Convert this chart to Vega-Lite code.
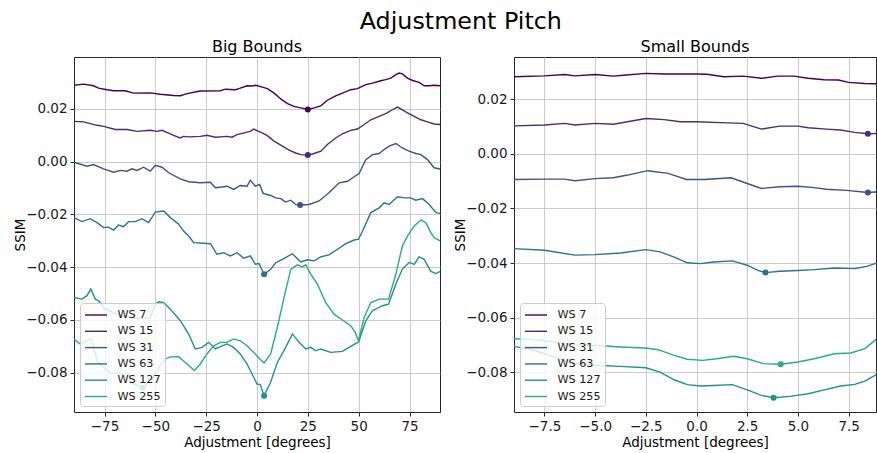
{
  "$schema": "https://vega.github.io/schema/vega-lite/v6.json",
  "padding": {"left": 13, "top": 9, "right": 0, "bottom": 4},
  "title": {"text": "Adjustment Pitch", "fontSize": 23.8, "anchor": "middle", "frame": "bounds", "offset": 5, "dx": 16},
  "datasets": {
    "big": [
      {"series": "WS 7", "deg": -90, "ssim": 0.0290}, {"series": "WS 7", "deg": -85.3, "ssim": 0.0294}, {"series": "WS 7", "deg": -80.4, "ssim": 0.0288}, {"series": "WS 7", "deg": -77.9, "ssim": 0.0279}, {"series": "WS 7", "deg": -73.8, "ssim": 0.0273}, {"series": "WS 7", "deg": -70.5, "ssim": 0.0269}, {"series": "WS 7", "deg": -64.8, "ssim": 0.0269}, {"series": "WS 7", "deg": -60.7, "ssim": 0.0260}, {"series": "WS 7", "deg": -52.5, "ssim": 0.0261}, {"series": "WS 7", "deg": -47.5, "ssim": 0.0256}, {"series": "WS 7", "deg": -41.0, "ssim": 0.0251}, {"series": "WS 7", "deg": -37.7, "ssim": 0.0250}, {"series": "WS 7", "deg": -34.4, "ssim": 0.0258}, {"series": "WS 7", "deg": -27.9, "ssim": 0.0268}, {"series": "WS 7", "deg": -18.0, "ssim": 0.0269}, {"series": "WS 7", "deg": -15.6, "ssim": 0.0275}, {"series": "WS 7", "deg": -10.6, "ssim": 0.0273}, {"series": "WS 7", "deg": -8.2, "ssim": 0.0279}, {"series": "WS 7", "deg": -4.9, "ssim": 0.0288}, {"series": "WS 7", "deg": -2.5, "ssim": 0.0287}, {"series": "WS 7", "deg": -0.6, "ssim": 0.0290}, {"series": "WS 7", "deg": 2.6, "ssim": 0.0283}, {"series": "WS 7", "deg": 5.1, "ssim": 0.0277}, {"series": "WS 7", "deg": 8.4, "ssim": 0.0260}, {"series": "WS 7", "deg": 11.7, "ssim": 0.0238}, {"series": "WS 7", "deg": 15.0, "ssim": 0.0220}, {"series": "WS 7", "deg": 18.2, "ssim": 0.0210}, {"series": "WS 7", "deg": 21.5, "ssim": 0.0204}, {"series": "WS 7", "deg": 25.0, "ssim": 0.0198}, {"series": "WS 7", "deg": 28.1, "ssim": 0.0204}, {"series": "WS 7", "deg": 31.4, "ssim": 0.0212}, {"series": "WS 7", "deg": 34.6, "ssim": 0.0233}, {"series": "WS 7", "deg": 38.7, "ssim": 0.0250}, {"series": "WS 7", "deg": 42.0, "ssim": 0.0260}, {"series": "WS 7", "deg": 46.1, "ssim": 0.0273}, {"series": "WS 7", "deg": 49.4, "ssim": 0.0277}, {"series": "WS 7", "deg": 53.5, "ssim": 0.0292}, {"series": "WS 7", "deg": 56.8, "ssim": 0.0298}, {"series": "WS 7", "deg": 60.9, "ssim": 0.0307}, {"series": "WS 7", "deg": 63.3, "ssim": 0.0311}, {"series": "WS 7", "deg": 65.8, "ssim": 0.0317}, {"series": "WS 7", "deg": 68.3, "ssim": 0.0330}, {"series": "WS 7", "deg": 69.9, "ssim": 0.0336}, {"series": "WS 7", "deg": 71.5, "ssim": 0.0333}, {"series": "WS 7", "deg": 74.0, "ssim": 0.0317}, {"series": "WS 7", "deg": 76.5, "ssim": 0.0308}, {"series": "WS 7", "deg": 79.7, "ssim": 0.0301}, {"series": "WS 7", "deg": 82.2, "ssim": 0.0288}, {"series": "WS 7", "deg": 84.7, "ssim": 0.0288}, {"series": "WS 7", "deg": 87.1, "ssim": 0.0290}, {"series": "WS 7", "deg": 90, "ssim": 0.0288},

      {"series": "WS 15", "deg": -90, "ssim": 0.0153}, {"series": "WS 15", "deg": -85.3, "ssim": 0.0151}, {"series": "WS 15", "deg": -78.7, "ssim": 0.0138}, {"series": "WS 15", "deg": -75.4, "ssim": 0.0134}, {"series": "WS 15", "deg": -69.7, "ssim": 0.0122}, {"series": "WS 15", "deg": -63.9, "ssim": 0.0122}, {"series": "WS 15", "deg": -59.0, "ssim": 0.0115}, {"series": "WS 15", "deg": -52.5, "ssim": 0.0119}, {"series": "WS 15", "deg": -49.2, "ssim": 0.0115}, {"series": "WS 15", "deg": -46.7, "ssim": 0.0119}, {"series": "WS 15", "deg": -41.0, "ssim": 0.0100}, {"series": "WS 15", "deg": -37.7, "ssim": 0.0090}, {"series": "WS 15", "deg": -36.1, "ssim": 0.0096}, {"series": "WS 15", "deg": -33.6, "ssim": 0.0094}, {"series": "WS 15", "deg": -27.9, "ssim": 0.0096}, {"series": "WS 15", "deg": -24.6, "ssim": 0.0100}, {"series": "WS 15", "deg": -20.5, "ssim": 0.0093}, {"series": "WS 15", "deg": -14.7, "ssim": 0.0096}, {"series": "WS 15", "deg": -12.3, "ssim": 0.0093}, {"series": "WS 15", "deg": -9.8, "ssim": 0.0103}, {"series": "WS 15", "deg": -3.3, "ssim": 0.0115}, {"series": "WS 15", "deg": -1.6, "ssim": 0.0124}, {"series": "WS 15", "deg": 0.2, "ssim": 0.0117}, {"series": "WS 15", "deg": 1.8, "ssim": 0.0112}, {"series": "WS 15", "deg": 5.1, "ssim": 0.0099}, {"series": "WS 15", "deg": 8.4, "ssim": 0.0078}, {"series": "WS 15", "deg": 12.5, "ssim": 0.0059}, {"series": "WS 15", "deg": 15.8, "ssim": 0.0044}, {"series": "WS 15", "deg": 19.0, "ssim": 0.0033}, {"series": "WS 15", "deg": 21.5, "ssim": 0.0027}, {"series": "WS 15", "deg": 25.0, "ssim": 0.0025}, {"series": "WS 15", "deg": 28.1, "ssim": 0.0031}, {"series": "WS 15", "deg": 31.4, "ssim": 0.0040}, {"series": "WS 15", "deg": 34.6, "ssim": 0.0065}, {"series": "WS 15", "deg": 38.7, "ssim": 0.0090}, {"series": "WS 15", "deg": 42.0, "ssim": 0.0106}, {"series": "WS 15", "deg": 46.1, "ssim": 0.0119}, {"series": "WS 15", "deg": 49.4, "ssim": 0.0124}, {"series": "WS 15", "deg": 52.7, "ssim": 0.0141}, {"series": "WS 15", "deg": 56.0, "ssim": 0.0159}, {"series": "WS 15", "deg": 60.1, "ssim": 0.0172}, {"series": "WS 15", "deg": 63.3, "ssim": 0.0182}, {"series": "WS 15", "deg": 66.6, "ssim": 0.0197}, {"series": "WS 15", "deg": 69.1, "ssim": 0.0207}, {"series": "WS 15", "deg": 70.7, "ssim": 0.0200}, {"series": "WS 15", "deg": 74.0, "ssim": 0.0185}, {"series": "WS 15", "deg": 77.3, "ssim": 0.0172}, {"series": "WS 15", "deg": 80.6, "ssim": 0.0159}, {"series": "WS 15", "deg": 83.8, "ssim": 0.0151}, {"series": "WS 15", "deg": 87.1, "ssim": 0.0143}, {"series": "WS 15", "deg": 90, "ssim": 0.0141},

      {"series": "WS 31", "deg": -90, "ssim": -0.0002}, {"series": "WS 31", "deg": -83.6, "ssim": -0.0017}, {"series": "WS 31", "deg": -80.4, "ssim": -0.0011}, {"series": "WS 31", "deg": -75.5, "ssim": -0.0027}, {"series": "WS 31", "deg": -70.5, "ssim": -0.0040}, {"series": "WS 31", "deg": -67.2, "ssim": -0.0033}, {"series": "WS 31", "deg": -64.0, "ssim": -0.0036}, {"series": "WS 31", "deg": -61.5, "ssim": -0.0027}, {"series": "WS 31", "deg": -59.0, "ssim": -0.0033}, {"series": "WS 31", "deg": -55.8, "ssim": -0.0021}, {"series": "WS 31", "deg": -52.5, "ssim": -0.0036}, {"series": "WS 31", "deg": -50.0, "ssim": -0.0014}, {"series": "WS 31", "deg": -46.7, "ssim": -0.0021}, {"series": "WS 31", "deg": -43.4, "ssim": -0.0042}, {"series": "WS 31", "deg": -37.7, "ssim": -0.0065}, {"series": "WS 31", "deg": -33.6, "ssim": -0.0076}, {"series": "WS 31", "deg": -27.9, "ssim": -0.0080}, {"series": "WS 31", "deg": -22.9, "ssim": -0.0078}, {"series": "WS 31", "deg": -20.5, "ssim": -0.0099}, {"series": "WS 31", "deg": -17.2, "ssim": -0.0096}, {"series": "WS 31", "deg": -14.7, "ssim": -0.0093}, {"series": "WS 31", "deg": -11.5, "ssim": -0.0105}, {"series": "WS 31", "deg": -8.2, "ssim": -0.0090}, {"series": "WS 31", "deg": -4.9, "ssim": -0.0093}, {"series": "WS 31", "deg": -3.3, "ssim": -0.0070}, {"series": "WS 31", "deg": -0.8, "ssim": -0.0093}, {"series": "WS 31", "deg": 1.3, "ssim": -0.0086}, {"series": "WS 31", "deg": 3.0, "ssim": -0.0120}, {"series": "WS 31", "deg": 6.7, "ssim": -0.0128}, {"series": "WS 31", "deg": 9.2, "ssim": -0.0137}, {"series": "WS 31", "deg": 11.7, "ssim": -0.0140}, {"series": "WS 31", "deg": 14.1, "ssim": -0.0153}, {"series": "WS 31", "deg": 16.6, "ssim": -0.0146}, {"series": "WS 31", "deg": 19.0, "ssim": -0.0162}, {"series": "WS 31", "deg": 21.2, "ssim": -0.0164}, {"series": "WS 31", "deg": 25.6, "ssim": -0.0162}, {"series": "WS 31", "deg": 30.5, "ssim": -0.0149}, {"series": "WS 31", "deg": 35.4, "ssim": -0.0118}, {"series": "WS 31", "deg": 40.4, "ssim": -0.0080}, {"series": "WS 31", "deg": 44.5, "ssim": -0.0074}, {"series": "WS 31", "deg": 47.8, "ssim": -0.0057}, {"series": "WS 31", "deg": 50.2, "ssim": -0.0045}, {"series": "WS 31", "deg": 53.5, "ssim": 0.0008}, {"series": "WS 31", "deg": 56.8, "ssim": 0.0027}, {"series": "WS 31", "deg": 60.1, "ssim": 0.0031}, {"series": "WS 31", "deg": 62.5, "ssim": 0.0046}, {"series": "WS 31", "deg": 65.0, "ssim": 0.0059}, {"series": "WS 31", "deg": 68.3, "ssim": 0.0069}, {"series": "WS 31", "deg": 71.5, "ssim": 0.0052}, {"series": "WS 31", "deg": 74.8, "ssim": 0.0040}, {"series": "WS 31", "deg": 78.1, "ssim": 0.0031}, {"series": "WS 31", "deg": 80.6, "ssim": 0.0027}, {"series": "WS 31", "deg": 83.8, "ssim": 0.0008}, {"series": "WS 31", "deg": 87.1, "ssim": -0.0023}, {"series": "WS 31", "deg": 90, "ssim": -0.0028},

      {"series": "WS 63", "deg": -90, "ssim": -0.0212}, {"series": "WS 63", "deg": -86.1, "ssim": -0.0227}, {"series": "WS 63", "deg": -82.0, "ssim": -0.0216}, {"series": "WS 63", "deg": -78.7, "ssim": -0.0231}, {"series": "WS 63", "deg": -75.4, "ssim": -0.0250}, {"series": "WS 63", "deg": -73.0, "ssim": -0.0248}, {"series": "WS 63", "deg": -70.5, "ssim": -0.0259}, {"series": "WS 63", "deg": -68.1, "ssim": -0.0240}, {"series": "WS 63", "deg": -65.6, "ssim": -0.0246}, {"series": "WS 63", "deg": -63.1, "ssim": -0.0227}, {"series": "WS 63", "deg": -59.9, "ssim": -0.0227}, {"series": "WS 63", "deg": -56.6, "ssim": -0.0216}, {"series": "WS 63", "deg": -53.3, "ssim": -0.0231}, {"series": "WS 63", "deg": -50.0, "ssim": -0.0191}, {"series": "WS 63", "deg": -45.9, "ssim": -0.0187}, {"series": "WS 63", "deg": -42.6, "ssim": -0.0212}, {"series": "WS 63", "deg": -38.5, "ssim": -0.0237}, {"series": "WS 63", "deg": -36.1, "ssim": -0.0263}, {"series": "WS 63", "deg": -33.6, "ssim": -0.0282}, {"series": "WS 63", "deg": -31.1, "ssim": -0.0307}, {"series": "WS 63", "deg": -22.9, "ssim": -0.0311}, {"series": "WS 63", "deg": -19.7, "ssim": -0.0351}, {"series": "WS 63", "deg": -16.4, "ssim": -0.0345}, {"series": "WS 63", "deg": -13.1, "ssim": -0.0357}, {"series": "WS 63", "deg": -9.8, "ssim": -0.0345}, {"series": "WS 63", "deg": -6.5, "ssim": -0.0366}, {"series": "WS 63", "deg": -3.3, "ssim": -0.0357}, {"series": "WS 63", "deg": -0.8, "ssim": -0.0389}, {"series": "WS 63", "deg": 1.0, "ssim": -0.0386}, {"series": "WS 63", "deg": 3.5, "ssim": -0.0427}, {"series": "WS 63", "deg": 6.7, "ssim": -0.0408}, {"series": "WS 63", "deg": 9.2, "ssim": -0.0383}, {"series": "WS 63", "deg": 12.5, "ssim": -0.0370}, {"series": "WS 63", "deg": 17.4, "ssim": -0.0349}, {"series": "WS 63", "deg": 21.5, "ssim": -0.0380}, {"series": "WS 63", "deg": 24.8, "ssim": -0.0372}, {"series": "WS 63", "deg": 28.1, "ssim": -0.0376}, {"series": "WS 63", "deg": 31.3, "ssim": -0.0361}, {"series": "WS 63", "deg": 35.4, "ssim": -0.0353}, {"series": "WS 63", "deg": 39.6, "ssim": -0.0332}, {"series": "WS 63", "deg": 43.7, "ssim": -0.0311}, {"series": "WS 63", "deg": 47.8, "ssim": -0.0297}, {"series": "WS 63", "deg": 49.9, "ssim": -0.0294}, {"series": "WS 63", "deg": 51.9, "ssim": -0.0263}, {"series": "WS 63", "deg": 56.0, "ssim": -0.0193}, {"series": "WS 63", "deg": 60.1, "ssim": -0.0175}, {"series": "WS 63", "deg": 62.5, "ssim": -0.0156}, {"series": "WS 63", "deg": 65.0, "ssim": -0.0162}, {"series": "WS 63", "deg": 69.1, "ssim": -0.0133}, {"series": "WS 63", "deg": 72.4, "ssim": -0.0137}, {"series": "WS 63", "deg": 75.6, "ssim": -0.0137}, {"series": "WS 63", "deg": 78.1, "ssim": -0.0146}, {"series": "WS 63", "deg": 81.4, "ssim": -0.0140}, {"series": "WS 63", "deg": 84.7, "ssim": -0.0162}, {"series": "WS 63", "deg": 88.0, "ssim": -0.0193}, {"series": "WS 63", "deg": 90, "ssim": -0.0196},

      {"series": "WS 127", "deg": -90, "ssim": -0.0515}, {"series": "WS 127", "deg": -86.1, "ssim": -0.0521}, {"series": "WS 127", "deg": -83.6, "ssim": -0.0508}, {"series": "WS 127", "deg": -81.7, "ssim": -0.0483}, {"series": "WS 127", "deg": -79.5, "ssim": -0.0521}, {"series": "WS 127", "deg": -77.9, "ssim": -0.0527}, {"series": "WS 127", "deg": -74.6, "ssim": -0.0559}, {"series": "WS 127", "deg": -68.9, "ssim": -0.0578}, {"series": "WS 127", "deg": -60.7, "ssim": -0.0593}, {"series": "WS 127", "deg": -52.5, "ssim": -0.0593}, {"series": "WS 127", "deg": -50.0, "ssim": -0.0540}, {"series": "WS 127", "deg": -48.4, "ssim": -0.0531}, {"series": "WS 127", "deg": -45.9, "ssim": -0.0534}, {"series": "WS 127", "deg": -42.6, "ssim": -0.0559}, {"series": "WS 127", "deg": -37.7, "ssim": -0.0603}, {"series": "WS 127", "deg": -33.6, "ssim": -0.0654}, {"series": "WS 127", "deg": -30.3, "ssim": -0.0710}, {"series": "WS 127", "deg": -27.0, "ssim": -0.0704}, {"series": "WS 127", "deg": -23.8, "ssim": -0.0685}, {"series": "WS 127", "deg": -20.5, "ssim": -0.0710}, {"series": "WS 127", "deg": -17.2, "ssim": -0.0698}, {"series": "WS 127", "deg": -14.7, "ssim": -0.0691}, {"series": "WS 127", "deg": -11.5, "ssim": -0.0704}, {"series": "WS 127", "deg": -8.2, "ssim": -0.0729}, {"series": "WS 127", "deg": -4.9, "ssim": -0.0767}, {"series": "WS 127", "deg": -2.4, "ssim": -0.0805}, {"series": "WS 127", "deg": 0.0, "ssim": -0.0843}, {"series": "WS 127", "deg": 1.6, "ssim": -0.0845}, {"series": "WS 127", "deg": 3.5, "ssim": -0.0887}, {"series": "WS 127", "deg": 6.7, "ssim": -0.0836}, {"series": "WS 127", "deg": 10.0, "ssim": -0.0761}, {"series": "WS 127", "deg": 14.1, "ssim": -0.0704}, {"series": "WS 127", "deg": 17.4, "ssim": -0.0653}, {"series": "WS 127", "deg": 20.7, "ssim": -0.0685}, {"series": "WS 127", "deg": 24.0, "ssim": -0.0710}, {"series": "WS 127", "deg": 26.4, "ssim": -0.0704}, {"series": "WS 127", "deg": 28.9, "ssim": -0.0717}, {"series": "WS 127", "deg": 31.3, "ssim": -0.0710}, {"series": "WS 127", "deg": 36.3, "ssim": -0.0723}, {"series": "WS 127", "deg": 42.0, "ssim": -0.0719}, {"series": "WS 127", "deg": 45.3, "ssim": -0.0704}, {"series": "WS 127", "deg": 48.6, "ssim": -0.0689}, {"series": "WS 127", "deg": 49.9, "ssim": -0.0685}, {"series": "WS 127", "deg": 53.5, "ssim": -0.0603}, {"series": "WS 127", "deg": 56.8, "ssim": -0.0565}, {"series": "WS 127", "deg": 61.7, "ssim": -0.0546}, {"series": "WS 127", "deg": 64.7, "ssim": -0.0540}, {"series": "WS 127", "deg": 68.3, "ssim": -0.0464}, {"series": "WS 127", "deg": 71.5, "ssim": -0.0407}, {"series": "WS 127", "deg": 74.8, "ssim": -0.0382}, {"series": "WS 127", "deg": 77.3, "ssim": -0.0389}, {"series": "WS 127", "deg": 79.7, "ssim": -0.0361}, {"series": "WS 127", "deg": 82.2, "ssim": -0.0370}, {"series": "WS 127", "deg": 85.5, "ssim": -0.0416}, {"series": "WS 127", "deg": 88.0, "ssim": -0.0424}, {"series": "WS 127", "deg": 90, "ssim": -0.0416},

      {"series": "WS 255", "deg": -90, "ssim": -0.0672}, {"series": "WS 255", "deg": -88.2, "ssim": -0.0684}, {"series": "WS 255", "deg": -86.9, "ssim": -0.0691}, {"series": "WS 255", "deg": -81.7, "ssim": -0.0671}, {"series": "WS 255", "deg": -78.4, "ssim": -0.0759}, {"series": "WS 255", "deg": -71.9, "ssim": -0.0803}, {"series": "WS 255", "deg": -63.6, "ssim": -0.0803}, {"series": "WS 255", "deg": -61.2, "ssim": -0.0841}, {"series": "WS 255", "deg": -56.2, "ssim": -0.0857}, {"series": "WS 255", "deg": -51.3, "ssim": -0.0822}, {"series": "WS 255", "deg": -48.0, "ssim": -0.0778}, {"series": "WS 255", "deg": -44.8, "ssim": -0.0747}, {"series": "WS 255", "deg": -42.6, "ssim": -0.0740}, {"series": "WS 255", "deg": -38.5, "ssim": -0.0739}, {"series": "WS 255", "deg": -34.4, "ssim": -0.0767}, {"series": "WS 255", "deg": -30.8, "ssim": -0.0792}, {"series": "WS 255", "deg": -27.9, "ssim": -0.0767}, {"series": "WS 255", "deg": -24.6, "ssim": -0.0729}, {"series": "WS 255", "deg": -21.3, "ssim": -0.0698}, {"series": "WS 255", "deg": -18.0, "ssim": -0.0685}, {"series": "WS 255", "deg": -14.7, "ssim": -0.0685}, {"series": "WS 255", "deg": -11.5, "ssim": -0.0672}, {"series": "WS 255", "deg": -8.2, "ssim": -0.0679}, {"series": "WS 255", "deg": -4.9, "ssim": -0.0698}, {"series": "WS 255", "deg": -1.6, "ssim": -0.0723}, {"series": "WS 255", "deg": 1.0, "ssim": -0.0745}, {"series": "WS 255", "deg": 3.5, "ssim": -0.0763}, {"series": "WS 255", "deg": 6.7, "ssim": -0.0729}, {"series": "WS 255", "deg": 10.0, "ssim": -0.0628}, {"series": "WS 255", "deg": 13.3, "ssim": -0.0515}, {"series": "WS 255", "deg": 16.6, "ssim": -0.0408}, {"series": "WS 255", "deg": 19.9, "ssim": -0.0391}, {"series": "WS 255", "deg": 22.3, "ssim": -0.0399}, {"series": "WS 255", "deg": 24.0, "ssim": -0.0391}, {"series": "WS 255", "deg": 26.4, "ssim": -0.0426}, {"series": "WS 255", "deg": 29.7, "ssim": -0.0464}, {"series": "WS 255", "deg": 33.8, "ssim": -0.0534}, {"series": "WS 255", "deg": 37.9, "ssim": -0.0578}, {"series": "WS 255", "deg": 42.0, "ssim": -0.0600}, {"series": "WS 255", "deg": 46.1, "ssim": -0.0622}, {"series": "WS 255", "deg": 48.3, "ssim": -0.0647}, {"series": "WS 255", "deg": 49.9, "ssim": -0.0679}, {"series": "WS 255", "deg": 52.7, "ssim": -0.0590}, {"series": "WS 255", "deg": 56.0, "ssim": -0.0534}, {"series": "WS 255", "deg": 60.1, "ssim": -0.0521}, {"series": "WS 255", "deg": 64.7, "ssim": -0.0521}, {"series": "WS 255", "deg": 68.3, "ssim": -0.0426}, {"series": "WS 255", "deg": 71.5, "ssim": -0.0319}, {"series": "WS 255", "deg": 74.0, "ssim": -0.0282}, {"series": "WS 255", "deg": 75.6, "ssim": -0.0263}, {"series": "WS 255", "deg": 77.3, "ssim": -0.0244}, {"series": "WS 255", "deg": 80.6, "ssim": -0.0221}, {"series": "WS 255", "deg": 83.0, "ssim": -0.0231}, {"series": "WS 255", "deg": 85.5, "ssim": -0.0269}, {"series": "WS 255", "deg": 87.1, "ssim": -0.0288}, {"series": "WS 255", "deg": 90, "ssim": -0.0300}
    ],
    "small": [
      {"series": "WS 7", "deg": -9.0, "ssim": 0.0282}, {"series": "WS 7", "deg": -7.5, "ssim": 0.0285}, {"series": "WS 7", "deg": -6.5, "ssim": 0.0290}, {"series": "WS 7", "deg": -6.0, "ssim": 0.0285}, {"series": "WS 7", "deg": -5.0, "ssim": 0.0290}, {"series": "WS 7", "deg": -4.1, "ssim": 0.0284}, {"series": "WS 7", "deg": -3.6, "ssim": 0.0287}, {"series": "WS 7", "deg": -2.5, "ssim": 0.0294}, {"series": "WS 7", "deg": -1.6, "ssim": 0.0292}, {"series": "WS 7", "deg": 0.0, "ssim": 0.0292}, {"series": "WS 7", "deg": 0.5, "ssim": 0.0291}, {"series": "WS 7", "deg": 1.35, "ssim": 0.0282}, {"series": "WS 7", "deg": 2.3, "ssim": 0.0284}, {"series": "WS 7", "deg": 3.2, "ssim": 0.0276}, {"series": "WS 7", "deg": 4.0, "ssim": 0.0284}, {"series": "WS 7", "deg": 4.8, "ssim": 0.0284}, {"series": "WS 7", "deg": 5.5, "ssim": 0.0276}, {"series": "WS 7", "deg": 6.3, "ssim": 0.0271}, {"series": "WS 7", "deg": 7.0, "ssim": 0.0270}, {"series": "WS 7", "deg": 7.5, "ssim": 0.0261}, {"series": "WS 7", "deg": 8.3, "ssim": 0.0257}, {"series": "WS 7", "deg": 8.8, "ssim": 0.0256}, {"series": "WS 7", "deg": 9.0, "ssim": 0.0255},

      {"series": "WS 15", "deg": -9.0, "ssim": 0.0102}, {"series": "WS 15", "deg": -7.5, "ssim": 0.0105}, {"series": "WS 15", "deg": -6.5, "ssim": 0.0111}, {"series": "WS 15", "deg": -6.0, "ssim": 0.0105}, {"series": "WS 15", "deg": -5.0, "ssim": 0.0111}, {"series": "WS 15", "deg": -4.1, "ssim": 0.0108}, {"series": "WS 15", "deg": -3.4, "ssim": 0.0117}, {"series": "WS 15", "deg": -2.5, "ssim": 0.0129}, {"series": "WS 15", "deg": -1.6, "ssim": 0.0125}, {"series": "WS 15", "deg": -0.8, "ssim": 0.0117}, {"series": "WS 15", "deg": 0.0, "ssim": 0.0117}, {"series": "WS 15", "deg": 1.5, "ssim": 0.0113}, {"series": "WS 15", "deg": 2.3, "ssim": 0.0111}, {"series": "WS 15", "deg": 3.2, "ssim": 0.0090}, {"series": "WS 15", "deg": 4.1, "ssim": 0.0101}, {"series": "WS 15", "deg": 5.0, "ssim": 0.0101}, {"series": "WS 15", "deg": 5.5, "ssim": 0.0095}, {"series": "WS 15", "deg": 6.4, "ssim": 0.0090}, {"series": "WS 15", "deg": 7.1, "ssim": 0.0087}, {"series": "WS 15", "deg": 7.8, "ssim": 0.0078}, {"series": "WS 15", "deg": 8.45, "ssim": 0.0073}, {"series": "WS 15", "deg": 8.8, "ssim": 0.0074}, {"series": "WS 15", "deg": 9.0, "ssim": 0.0075},

      {"series": "WS 31", "deg": -9.0, "ssim": -0.0094}, {"series": "WS 31", "deg": -7.5, "ssim": -0.0093}, {"series": "WS 31", "deg": -6.5, "ssim": -0.0093}, {"series": "WS 31", "deg": -6.0, "ssim": -0.0099}, {"series": "WS 31", "deg": -5.0, "ssim": -0.0091}, {"series": "WS 31", "deg": -4.1, "ssim": -0.0088}, {"series": "WS 31", "deg": -3.4, "ssim": -0.0078}, {"series": "WS 31", "deg": -2.4, "ssim": -0.0062}, {"series": "WS 31", "deg": -1.4, "ssim": -0.0072}, {"series": "WS 31", "deg": -0.5, "ssim": -0.0094}, {"series": "WS 31", "deg": 0.4, "ssim": -0.0094}, {"series": "WS 31", "deg": 1.7, "ssim": -0.0088}, {"series": "WS 31", "deg": 2.5, "ssim": -0.0109}, {"series": "WS 31", "deg": 3.2, "ssim": -0.0127}, {"series": "WS 31", "deg": 4.1, "ssim": -0.0121}, {"series": "WS 31", "deg": 5.0, "ssim": -0.0119}, {"series": "WS 31", "deg": 5.8, "ssim": -0.0124}, {"series": "WS 31", "deg": 6.4, "ssim": -0.0130}, {"series": "WS 31", "deg": 7.4, "ssim": -0.0134}, {"series": "WS 31", "deg": 8.45, "ssim": -0.0142}, {"series": "WS 31", "deg": 8.8, "ssim": -0.0140}, {"series": "WS 31", "deg": 9.0, "ssim": -0.0139},

      {"series": "WS 63", "deg": -9.0, "ssim": -0.0347}, {"series": "WS 63", "deg": -7.5, "ssim": -0.0353}, {"series": "WS 63", "deg": -6.0, "ssim": -0.0371}, {"series": "WS 63", "deg": -5.0, "ssim": -0.0369}, {"series": "WS 63", "deg": -3.75, "ssim": -0.0363}, {"series": "WS 63", "deg": -2.5, "ssim": -0.0351}, {"series": "WS 63", "deg": -1.8, "ssim": -0.0359}, {"series": "WS 63", "deg": -1.1, "ssim": -0.0378}, {"series": "WS 63", "deg": -0.46, "ssim": -0.0399}, {"series": "WS 63", "deg": 0.2, "ssim": -0.0402}, {"series": "WS 63", "deg": 0.85, "ssim": -0.0396}, {"series": "WS 63", "deg": 1.76, "ssim": -0.0392}, {"series": "WS 63", "deg": 2.5, "ssim": -0.0408}, {"series": "WS 63", "deg": 3.0, "ssim": -0.0426}, {"series": "WS 63", "deg": 3.4, "ssim": -0.0435}, {"series": "WS 63", "deg": 4.1, "ssim": -0.0430}, {"series": "WS 63", "deg": 5.0, "ssim": -0.0427}, {"series": "WS 63", "deg": 5.8, "ssim": -0.0424}, {"series": "WS 63", "deg": 6.8, "ssim": -0.0418}, {"series": "WS 63", "deg": 7.8, "ssim": -0.0420}, {"series": "WS 63", "deg": 8.4, "ssim": -0.0412}, {"series": "WS 63", "deg": 8.8, "ssim": -0.0402}, {"series": "WS 63", "deg": 9.0, "ssim": -0.0398},

      {"series": "WS 127", "deg": -9.0, "ssim": -0.0705}, {"series": "WS 127", "deg": -8.0, "ssim": -0.0719}, {"series": "WS 127", "deg": -7.0, "ssim": -0.0744}, {"series": "WS 127", "deg": -6.0, "ssim": -0.0768}, {"series": "WS 127", "deg": -5.0, "ssim": -0.0774}, {"series": "WS 127", "deg": -3.75, "ssim": -0.0778}, {"series": "WS 127", "deg": -2.5, "ssim": -0.0783}, {"series": "WS 127", "deg": -1.8, "ssim": -0.0799}, {"series": "WS 127", "deg": -1.1, "ssim": -0.0827}, {"series": "WS 127", "deg": -0.46, "ssim": -0.0845}, {"series": "WS 127", "deg": 0.2, "ssim": -0.0850}, {"series": "WS 127", "deg": 0.85, "ssim": -0.0848}, {"series": "WS 127", "deg": 1.76, "ssim": -0.0845}, {"series": "WS 127", "deg": 2.5, "ssim": -0.0864}, {"series": "WS 127", "deg": 3.2, "ssim": -0.0884}, {"series": "WS 127", "deg": 3.8, "ssim": -0.0893}, {"series": "WS 127", "deg": 4.6, "ssim": -0.0888}, {"series": "WS 127", "deg": 5.5, "ssim": -0.0878}, {"series": "WS 127", "deg": 6.3, "ssim": -0.0864}, {"series": "WS 127", "deg": 7.1, "ssim": -0.0850}, {"series": "WS 127", "deg": 7.8, "ssim": -0.0844}, {"series": "WS 127", "deg": 8.3, "ssim": -0.0832}, {"series": "WS 127", "deg": 8.8, "ssim": -0.0811}, {"series": "WS 127", "deg": 9.0, "ssim": -0.0802},

      {"series": "WS 255", "deg": -9.0, "ssim": -0.0677}, {"series": "WS 255", "deg": -8.0, "ssim": -0.0680}, {"series": "WS 255", "deg": -7.0, "ssim": -0.0689}, {"series": "WS 255", "deg": -6.05, "ssim": -0.0699}, {"series": "WS 255", "deg": -5.0, "ssim": -0.0701}, {"series": "WS 255", "deg": -3.75, "ssim": -0.0707}, {"series": "WS 255", "deg": -2.5, "ssim": -0.0711}, {"series": "WS 255", "deg": -1.9, "ssim": -0.0717}, {"series": "WS 255", "deg": -1.1, "ssim": -0.0738}, {"series": "WS 255", "deg": -0.46, "ssim": -0.0752}, {"series": "WS 255", "deg": 0.3, "ssim": -0.0756}, {"series": "WS 255", "deg": 1.0, "ssim": -0.0750}, {"series": "WS 255", "deg": 1.85, "ssim": -0.0741}, {"series": "WS 255", "deg": 2.5, "ssim": -0.0750}, {"series": "WS 255", "deg": 3.3, "ssim": -0.0768}, {"series": "WS 255", "deg": 4.15, "ssim": -0.0770}, {"series": "WS 255", "deg": 5.0, "ssim": -0.0762}, {"series": "WS 255", "deg": 5.8, "ssim": -0.0750}, {"series": "WS 255", "deg": 6.8, "ssim": -0.0732}, {"series": "WS 255", "deg": 7.6, "ssim": -0.0729}, {"series": "WS 255", "deg": 8.3, "ssim": -0.0713}, {"series": "WS 255", "deg": 8.8, "ssim": -0.0683}, {"series": "WS 255", "deg": 9.0, "ssim": -0.0670}
    ]
  },
  "spacing": 12,
  "hconcat": [
    {
      "width": 366,
      "height": 355,
      "title": {"text": "Big Bounds"},
      "data": {"name": "big"},
      "layer": [
        {
          "mark": {"type": "line", "clip": true},
          "encoding": {
            "x": {"field": "deg", "type": "quantitative", "scale": {"domain": [-90, 90], "nice": false, "zero": false}, "axis": {"values": [-75, -50, -25, 0, 25, 50, 75], "format": "d", "title": "Adjustment [degrees]"}},
            "y": {"field": "ssim", "type": "quantitative", "scale": {"domain": [-0.0949, 0.0397], "nice": false, "zero": false}, "axis": {"values": [-0.08, -0.06, -0.04, -0.02, 0, 0.02], "format": ".2f", "title": "SSIM"}},
            "color": {"field": "series", "type": "nominal", "scale": {"domain": ["WS 7", "WS 15", "WS 31", "WS 63", "WS 127", "WS 255"], "range": ["#440154", "#472d7b", "#3b528b", "#2c728e", "#21918c", "#28ae80"]}, "legend": {"title": null, "orient": "bottom-left"}}
          }
        },
        {
          "transform": [
            {"joinaggregate": [{"op": "min", "field": "ssim", "as": "lowest"}], "groupby": ["series"]},
            {"filter": "datum.ssim === datum.lowest"}
          ],
          "mark": {"type": "circle", "size": 36, "opacity": 1, "clip": true},
          "encoding": {
            "x": {"field": "deg", "type": "quantitative"},
            "y": {"field": "ssim", "type": "quantitative"},
            "fill": {"field": "series", "type": "nominal", "scale": {"domain": ["WS 7", "WS 15", "WS 31", "WS 63", "WS 127", "WS 255"], "range": ["#440154", "#472d7b", "#3b528b", "#2c728e", "#21918c", "#28ae80"]}, "legend": null}
          }
        }
      ]
    },
    {
      "width": 362,
      "height": 355,
      "title": {"text": "Small Bounds"},
      "data": {"name": "small"},
      "layer": [
        {
          "mark": {"type": "line", "clip": true},
          "encoding": {
            "x": {"field": "deg", "type": "quantitative", "scale": {"domain": [-9, 8.85], "nice": false, "zero": false}, "axis": {"values": [-7.5, -5, -2.5, 0, 2.5, 5, 7.5], "format": ".1f", "title": "Adjustment [degrees]"}},
            "y": {"field": "ssim", "type": "quantitative", "scale": {"domain": [-0.0945, 0.0354], "nice": false, "zero": false}, "axis": {"values": [-0.08, -0.06, -0.04, -0.02, 0, 0.02], "format": ".2f", "title": "SSIM"}},
            "color": {"field": "series", "type": "nominal", "scale": {"domain": ["WS 7", "WS 15", "WS 31", "WS 63", "WS 127", "WS 255"], "range": ["#440154", "#472d7b", "#3b528b", "#2c728e", "#21918c", "#28ae80"]}, "legend": {"title": null, "orient": "bottom-left"}}
          }
        },
        {
          "transform": [
            {"joinaggregate": [{"op": "min", "field": "ssim", "as": "lowest"}], "groupby": ["series"]},
            {"filter": "datum.ssim === datum.lowest"}
          ],
          "mark": {"type": "circle", "size": 36, "opacity": 1, "clip": true},
          "encoding": {
            "x": {"field": "deg", "type": "quantitative"},
            "y": {"field": "ssim", "type": "quantitative"},
            "fill": {"field": "series", "type": "nominal", "scale": {"domain": ["WS 7", "WS 15", "WS 31", "WS 63", "WS 127", "WS 255"], "range": ["#440154", "#472d7b", "#3b528b", "#2c728e", "#21918c", "#28ae80"]}, "legend": null}
          }
        }
      ]
    }
  ],
  "resolve": {"scale": {"color": "independent", "fill": "independent"}, "legend": {"color": "independent"}},
  "config": {
    "font": "DejaVu Sans",
    "background": "#ffffff",
    "view": {"stroke": "#262626", "strokeWidth": 1},
    "line": {"strokeWidth": 1.4},
    "title": {"font": "DejaVu Sans", "fontSize": 16, "fontWeight": "normal", "color": "#000000", "offset": 2, "frame": "group"},
    "axis": {
      "domain": false,
      "grid": true,
      "gridColor": "#c4c4c4",
      "gridWidth": 0.9,
      "tickColor": "#262626",
      "tickSize": 4,
      "tickWidth": 1,
      "labelFont": "DejaVu Sans",
      "labelFontSize": 13.5,
      "labelColor": "#1a1a1a",
      "labelPadding": 3,
      "labelExpr": "replace(datum.label, '-', '\u2212')",
      "titleFont": "DejaVu Sans",
      "titleFontSize": 13.5,
      "titleFontWeight": "normal",
      "titleColor": "#000000"
    },
    "axisX": {"titlePadding": 3},
    "axisY": {"titlePadding": -2},
    "legend": {
      "offset": 6,
      "fillColor": "rgba(255,255,255,0.8)",
      "strokeColor": "#cccccc",
      "cornerRadius": 3,
      "padding": 4,
      "symbolType": "M-1.571,0L1.571,0",
      "symbolSize": 196,
      "symbolOffset": 4,
      "symbolStrokeWidth": 1.5,
      "labelFont": "DejaVu Sans",
      "labelFontSize": 11.2,
      "labelColor": "#1a1a1a",
      "labelOffset": 13.5,
      "rowPadding": 2.3
    }
  }
}
